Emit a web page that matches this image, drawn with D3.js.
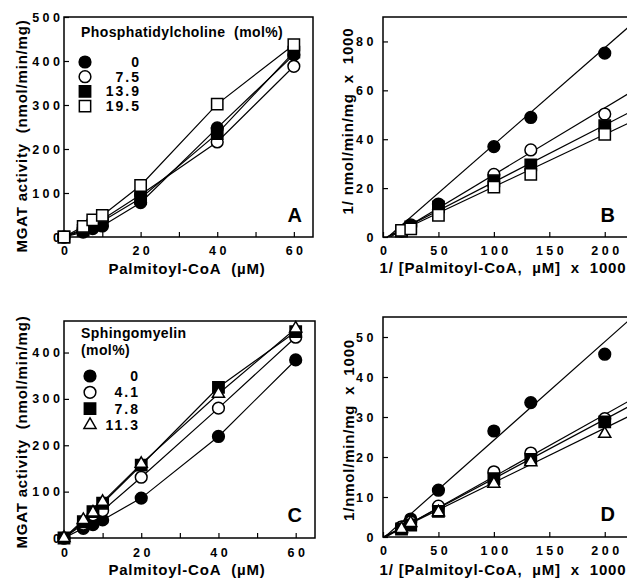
<!DOCTYPE html>
<html>
<head>
<meta charset="utf-8">
<script src="https://cdnjs.cloudflare.com/ajax/libs/d3/7.8.5/d3.min.js"></script>
<style>
body { margin: 0; background: #fff; }
svg text { font-family: "Liberation Sans", Arial, sans-serif; font-weight: bold; fill: #000; }
.tick text { font-size: 12.5px; letter-spacing: 3.5px; }
.tick line { stroke: #000; stroke-width: 1.2px; }
.title { font-size: 15px; letter-spacing: 0.8px; }
</style>
</head>
<body>
<svg id="chart" width="627" height="580"></svg>
<script>
// substrate concentrations (uM) and reciprocal values (1/uM x 1000)
var conc = [0, 5, 7.5, 10, 20, 40, 60];
var invConc = [16.7, 25, 50, 100, 133.3, 200];

// panel A - phosphatidylcholine (mol%)
var pcLabels = ["0", "7.5", "13.9", "19.5"];
var pc0 = [0, 11, 19, 25, 78, 248, 414];
var pc75 = [0, 18, 30, 40, 96, 216, 388];
var pc139 = [0, 15, 27, 36, 88, 235, 420];
var pc195 = [0, 24, 39, 49, 117, 302, 437];

// panel B - double reciprocal, phosphatidylcholine
var lbPc0 = [2.4, 5, 13.5, 37, 48.9, 75.2];
var lbPc75 = [2.6, 4.3, 11.2, 25.6, 35.6, 50.3];
var lbPc139 = [2.4, 4.1, 12.3, 23, 29.5, 45.5];
var lbPc195 = [2.7, 3.3, 8.9, 20.4, 25.6, 42];
var fitPcSlope = [0.396, 0.273, 0.233, 0.214];
var fitPcIntercept = [-1.8, -1.8, -0.8, -0.85];

// panel C - sphingomyelin (mol%)
var smLabels = ["0", "4.1", "7.8", "11.3"];
var sm0 = [0, 21, 29, 39, 86, 219, 384];
var sm41 = [0, 30, 50, 59, 131, 280, 433];
var sm78 = [0, 35, 57, 75, 157, 325, 445];
var sm113 = [0, 39, 55, 78, 160, 311, 452];

// panel D - double reciprocal, sphingomyelin
var lbSm0 = [2.5, 4.5, 11.7, 26.5, 33.6, 45.7];
var lbSm41 = [2.5, 3.8, 7.7, 16.3, 21, 29.6];
var lbSm78 = [2, 3, 6.4, 14.6, 19.4, 28.8];
var lbSm113 = [2, 3.5, 6.2, 13.3, 18.7, 25.8];
var fitSmSlope = [0.246, 0.155, 0.148, 0.136];
var fitSmIntercept = [-0.4, -0.4, -0.2, 0];

var pcSymbols = ["fcircle", "ocircle", "fsquare", "osquare"];
var smSymbols = ["fcircle", "ocircle", "fsquare", "otriangle"];

var NB = "\u00a0";
var svg = d3.select("#chart");

var symbolPath = function (kind) {
    var type = d3.symbolCircle, size = 108;
    if (kind.indexOf("square") > 0) { type = d3.symbolSquare; size = 128; }
    if (kind.indexOf("triangle") > 0) { type = d3.symbolTriangle; size = 64; }
    return d3.symbol().type(type).size(size)();
};

var drawMark = function (g, kind, cx, cy) {
    g.append("path")
        .attr("d", symbolPath(kind))
        .attr("transform", "translate(" + cx + "," + cy + ")")
        .attr("fill", kind[0] === "f" ? "#000" : "#fff")
        .attr("stroke", "#000")
        .attr("stroke-width", 1.5);
};

function panel(cfg, idx) {
    var x = d3.scaleLinear().domain(cfg.xDomain).range([cfg.left, cfg.right]);
    var y = d3.scaleLinear().domain(cfg.yDomain).range([cfg.bottom, cfg.top]);
    var g = svg.append("g");
    var clipId = "clip" + idx;

    g.append("clipPath").attr("id", clipId)
        .append("rect")
        .attr("x", cfg.left).attr("y", cfg.top)
        .attr("width", cfg.right - cfg.left).attr("height", cfg.bottom - cfg.top);

    // axes, ticks pointing inward
    var xa = g.append("g")
        .attr("transform", "translate(0," + cfg.bottom + ")")
        .call(d3.axisBottom(x).tickValues(cfg.xTicks).tickSize(-5).tickPadding(cfg.xPad));
    xa.select(".domain").remove();
    xa.selectAll("text").attr("dx", "1.75px");
    if (cfg.xMinor) {
        var xm = g.append("g")
            .attr("transform", "translate(0," + cfg.bottom + ")")
            .call(d3.axisBottom(x).tickValues(cfg.xMinor).tickSize(-5).tickFormat(""));
        xm.select(".domain").remove();
    }
    var ya = g.append("g")
        .attr("transform", "translate(" + cfg.left + ",0)")
        .call(d3.axisLeft(y).tickValues(cfg.yTicks).tickSize(-5).tickPadding(cfg.yPad));
    ya.select(".domain").remove();

    g.append("rect")
        .attr("x", cfg.left).attr("y", cfg.top)
        .attr("width", cfg.right - cfg.left).attr("height", cfg.bottom - cfg.top)
        .attr("fill", "none").attr("stroke", "#000").attr("stroke-width", 1.5);

    // series: connected points, or straight fitted lines
    var plot = g.append("g").attr("clip-path", "url(#" + clipId + ")");
    cfg.series.forEach(function (s, i) {
        if (cfg.slopes) {
            var m = cfg.slopes[i], b = cfg.intercepts[i];
            var x0 = Math.max(0, -b / m), x1 = cfg.xDomain[1];
            plot.append("line")
                .attr("x1", x(x0)).attr("y1", y(m * x0 + b))
                .attr("x2", x(x1)).attr("y2", y(m * x1 + b))
                .attr("stroke", "#000").attr("stroke-width", 1.2);
        } else {
            var line = d3.line()
                .x(function (d, j) { return x(cfg.xs[j]); })
                .y(function (d) { return y(d); });
            plot.append("path").datum(s)
                .attr("d", line)
                .attr("fill", "none").attr("stroke", "#000").attr("stroke-width", 1.2);
        }
    });
    cfg.series.forEach(function (s, i) {
        s.forEach(function (v, j) {
            drawMark(g, cfg.symbols[i], x(cfg.xs[j]), y(v));
        });
    });

    // axis titles
    g.append("text").attr("class", "title")
        .attr("x", cfg.xTitle[1]).attr("y", cfg.xTitle[2])
        .attr("text-anchor", "middle")
        .text(cfg.xTitle[0]);
    g.append("text").attr("class", "title")
        .attr("transform", "translate(" + cfg.yTitle[1] + "," + cfg.yTitle[2] + ") rotate(-90)")
        .attr("text-anchor", "middle")
        .text(cfg.yTitle[0]);

    // panel letter
    g.append("text")
        .attr("x", cfg.letter[1]).attr("y", cfg.letter[2])
        .attr("text-anchor", "end").attr("font-size", 20)
        .text(cfg.letter[0]);

    // legend
    if (cfg.legend) {
        var L = cfg.legend;
        L.head.forEach(function (h, k) {
            g.append("text")
                .attr("x", L.x).attr("y", L.headY + k * 17)
                .attr("font-size", 14).attr("letter-spacing", "0.4px")
                .text(h);
        });
        L.labels.forEach(function (lab, i) {
            var ry = L.rowY + i * L.step;
            drawMark(g, cfg.symbols[i], L.symX, ry);
            g.append("text")
                .attr("x", L.labX).attr("y", ry + 5)
                .attr("text-anchor", "end").attr("font-size", 14)
                .attr("letter-spacing", "2px")
                .text(lab);
        });
    }
}

panel({
    left: 64, right: 313, top: 17, bottom: 237,
    xDomain: [0, 65], yDomain: [0, 500],
    xTicks: [0, 20, 40, 60], xMinor: [10, 30, 50], xPad: 9.5,
    yTicks: [0, 100, 200, 300, 400, 500], yPad: 0.5,
    xs: conc, series: [pc0, pc75, pc139, pc195], symbols: pcSymbols,
    xTitle: ["Palmitoyl-CoA" + NB + NB + "(\u00b5M)", 187, 274],
    yTitle: ["MGAT activity" + NB + NB + "(nmol/min/mg)", 27, 136],
    letter: ["A", 302, 222],
    legend: { head: ["Phosphatidylcholine" + NB + NB + "(mol%)"], x: 81, headY: 37,
        labels: pcLabels, rowY: 62, step: 14.7, symX: 85, labX: 141 }
}, 0);

panel({
    left: 383, right: 638, top: 17, bottom: 237,
    xDomain: [0, 230], yDomain: [0, 90],
    xTicks: [0, 50, 100, 150, 200], xMinor: null, xPad: 9.5,
    yTicks: [0, 20, 40, 60, 80], yPad: 6,
    xs: invConc, series: [lbPc0, lbPc75, lbPc139, lbPc195], symbols: pcSymbols,
    slopes: fitPcSlope, intercepts: fitPcIntercept,
    xTitle: ["1/" + NB + "[Palmitoyl-CoA," + NB + NB + "\u00b5M]" + NB + NB + "x" + NB + NB + "1000", 503, 273],
    yTitle: ["1/" + NB + "nmol/min/mg" + NB + NB + "x" + NB + NB + "1000", 353, 121],
    letter: ["B", 615, 222]
}, 1);

panel({
    left: 64, right: 315, top: 321, bottom: 538,
    xDomain: [0, 65], yDomain: [0, 468],
    xTicks: [0, 20, 40, 60], xMinor: [10, 30, 50], xPad: 10.5,
    yTicks: [0, 100, 200, 300, 400], yPad: 0.5,
    xs: conc, series: [sm0, sm41, sm78, sm113], symbols: smSymbols,
    xTitle: ["Palmitoyl-CoA" + NB + NB + "(\u00b5M)", 187, 575],
    yTitle: ["MGAT activity" + NB + NB + "(nmol/min/mg)", 27, 432],
    letter: ["C", 302, 522],
    legend: { head: ["Sphingomyelin", "(mol%)"], x: 81, headY: 338,
        labels: smLabels, rowY: 376, step: 16.3, symX: 90, labX: 140 }
}, 2);

panel({
    left: 383, right: 638, top: 317, bottom: 537,
    xDomain: [0, 230], yDomain: [0, 55],
    xTicks: [0, 50, 100, 150, 200], xMinor: null, xPad: 9.5,
    yTicks: [0, 10, 20, 30, 40, 50], yPad: 6,
    xs: invConc, series: [lbSm0, lbSm41, lbSm78, lbSm113], symbols: smSymbols,
    slopes: fitSmSlope, intercepts: fitSmIntercept,
    xTitle: ["1/" + NB + "[Palmitoyl-CoA," + NB + NB + "\u00b5M]" + NB + NB + "x" + NB + NB + "1000", 503, 575],
    yTitle: ["1/nmol/min/mg" + NB + NB + "x" + NB + NB + "1000", 354, 430],
    letter: ["D", 615, 521]
}, 3);
</script>
</body>
</html>
